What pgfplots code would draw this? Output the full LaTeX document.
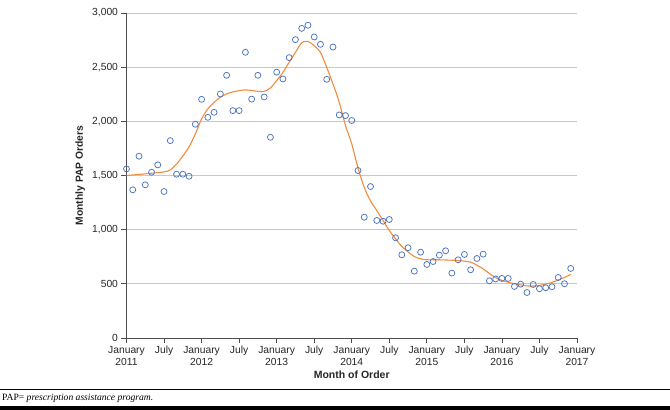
\documentclass[border=0pt]{standalone}
\usepackage{fontspec}
\setmainfont{Liberation Sans}
\newfontfamily\seriffont{Liberation Serif}
\usepackage{pgfplots}
\usepackage{pgfplotstable}
\pgfplotsset{compat=1.18}
\definecolor{ptblue}{HTML}{4A72C0}
\definecolor{lnorange}{HTML}{F28C3C}
\definecolor{gridgray}{HTML}{C8C8C8}
\definecolor{axgray}{HTML}{4D4D4D}

\pgfplotstableread{
m v
0 1561
1 1368
2 1678
3 1414
4 1530
5 1598
6 1352
7 1822
8 1512
9 1512
10 1493
11 1973
12 2203
13 2037
14 2083
15 2253
16 2425
17 2099
18 2099
19 2637
20 2205
21 2425
22 2225
23 1853
24 2454
25 2391
26 2588
27 2754
28 2858
29 2887
30 2779
31 2711
32 2388
33 2686
34 2059
35 2053
36 2008
37 1546
38 1115
39 1398
40 1085
41 1078
42 1094
43 925
44 768
45 833
46 617
47 792
48 679
49 706
50 765
51 805
52 599
53 722
54 771
55 630
56 734
57 774
58 528
59 545
60 550
61 550
62 476
63 497
64 420
65 494
66 455
67 464
68 473
69 559
70 501
71 642
}\points

\pgfplotstableread{
m v
0 1500
2 1510
4 1521
6 1533
7 1552
8 1605
9 1680
10 1765
11 1884
12 2022
13 2115
14 2176
15 2222
16 2253
17 2272
18 2283
19 2290
20 2285
21 2277
22 2277
23 2308
24 2376
25 2452
26 2545
27 2637
28 2725
29 2738
30 2698
31 2637
32 2498
33 2345
34 2176
35 1961
36 1792
37 1570
38 1390
39 1265
40 1177
41 1085
42 992
43 916
44 845
45 795
46 752
47 731
48 722
50 722
53 715
55 700
56 672
57 638
58 595
59 558
60 531
62 501
64 481
65 480
66 485
68 513
69 535
70 559
71 587
}\smoothed

\begin{document}
\begin{tikzpicture}[x=1pt,y=1pt]
\path[use as bounding box] (0,0) rectangle (670,410);
\begin{axis}[
  at={(126.5pt,72pt)}, anchor=south west,
  scale only axis, width=450.5pt, height=325pt,
  xmin=0, xmax=72, ymin=0, ymax=3000,
  axis lines=left, axis line style={-, draw=axgray, line width=0.8pt},
  tick align=outside, major tick length=5pt,
  tick style={draw=axgray, line width=0.8pt},
  xtick={0,6,...,72},
  xticklabels={January\\2011, July, January\\2012, July, January\\2013, July, January\\2014, July, January\\2015, July, January\\2016, July, January\\2017},
  xticklabel style={align=center, font=\fontsize{10.3}{11.5}\selectfont, text=black!85},
  ytick={0,500,...,3000},
  yticklabel style={font=\fontsize{10.3}{12}\selectfont, text=black!85},
  /pgf/number format/.cd, 1000 sep={,}, assume math mode=true, /pgfplots/.cd,
  ymajorgrids, grid style={draw=gridgray, line width=0.9pt},
  xlabel={Month of Order},
  ylabel={Monthly PAP Orders},
  xlabel style={at={(axis description cs:0.5,-0.114)}, anchor=center, font=\bfseries\fontsize{10.5}{12}\selectfont, text=black!85},
  ylabel style={at={(axis description cs:-0.103,0.5)}, anchor=center, font=\bfseries\fontsize{10.3}{12}\selectfont, text=black!85},
  clip=false,
]
\addplot[only marks, mark=o, mark size=3pt, draw=ptblue, mark options={line width=0.75pt}] table[x=m,y=v] {\points};
\addplot[lnorange, line width=1.1pt, smooth, no marks] table[x=m,y=v] {\smoothed};
\end{axis}
\draw[line width=1pt] (0,20) -- (670,20);
\fill (0,0) rectangle (670,4);
\node[anchor=west, inner sep=0pt, font=\seriffont\fontsize{9.6}{11}\selectfont] at (2,12) {PAP= \textit{prescription assistance program.}};
\end{tikzpicture}
\end{document}
